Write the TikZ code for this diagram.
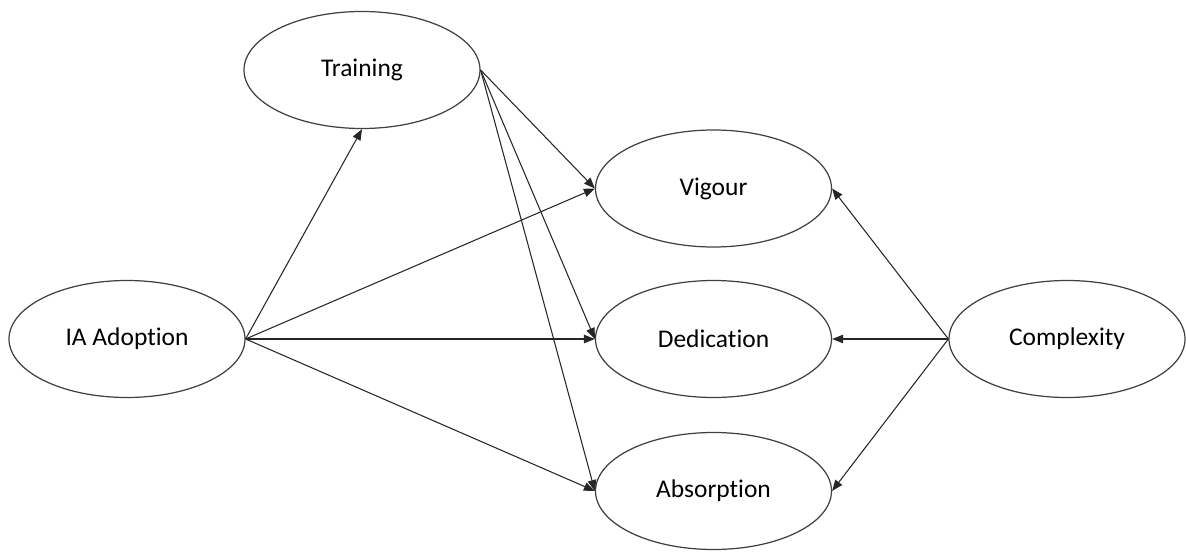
\documentclass[tikz,border=0pt]{standalone}
\usepackage{fontspec}
\setmainfont{Carlito}[Ligatures={NoCommon}]
\usetikzlibrary{arrows.meta,shapes.geometric}
\definecolor{edgegray}{HTML}{404040}
\tikzset{
  every picture/.style={line join=round, >={Triangle[length=2.2mm,width=1.7mm]}},
  factor/.style={ellipse,draw=edgegray,line width=0.7pt,minimum width=4.72cm,minimum height=2.34cm,inner sep=0pt,font=\fontsize{14.5}{17}\selectfont},
  path/.style={->,line width=0.6pt,draw=black!85},
}

\begin{document}
\begin{tikzpicture}
\useasboundingbox (0,0) rectangle (23.72,11.02);
\node[factor] (adopt) at (2.540,4.240) {IA Adoption};
\node[factor] (train) at (7.240,9.620) {Training};
\node[factor] (vig) at (14.270,7.250) {Vigour};
\node[factor] (ded) at (14.270,4.240) {Dedication};
\node[factor] (abs) at (14.270,1.200) {Absorption};
\node[factor] (cplx) at (21.340,4.240) {Complexity};
% from adoption
\draw[path] (adopt.east) -- (train.south);
\draw[path] (adopt.east) -- (vig.west);
\draw[path] (adopt.east) -- (ded.west);
\draw[path] (adopt.east) -- (abs.west);
% from training
\draw[path] (train.east) -- (vig.west);
\draw[path] (train.east) -- (ded.west);
\draw[path] (train.east) -- (abs.west);
% from complexity
\draw[path] (cplx.west) -- (vig.east);
\draw[path] (cplx.west) -- (ded.east);
\draw[path] (cplx.west) -- (abs.east);
\end{tikzpicture}
\end{document}
